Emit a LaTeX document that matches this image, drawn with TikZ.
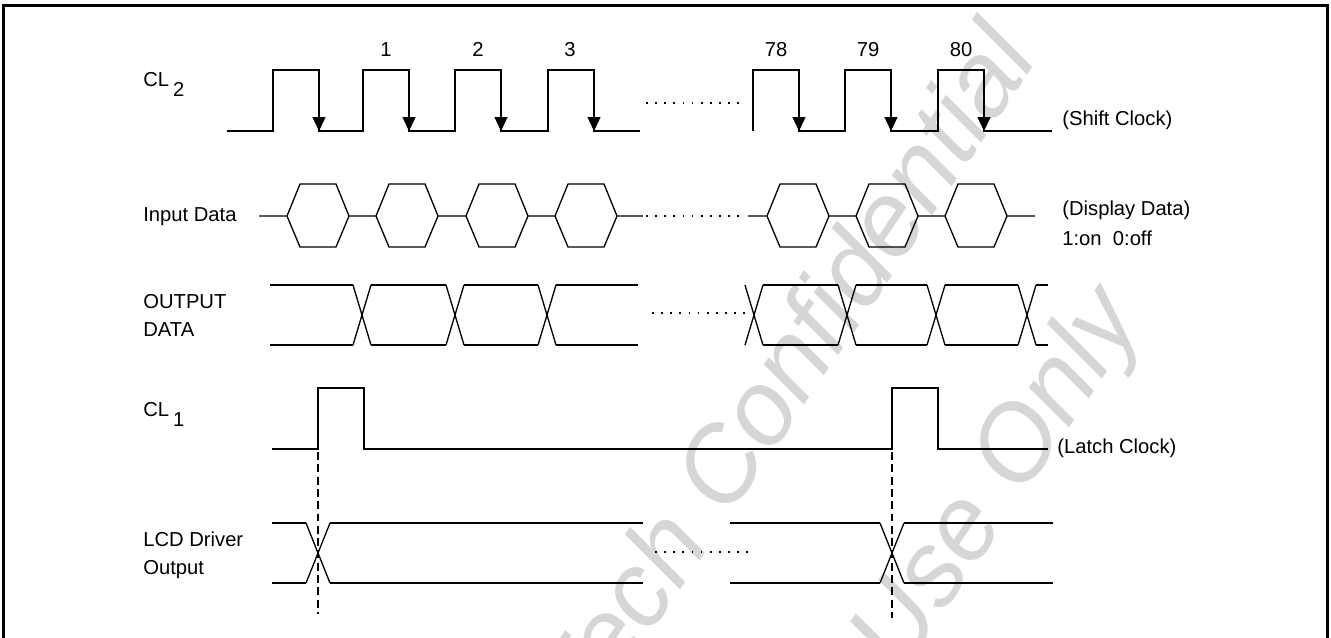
\documentclass[tikz,border=0pt]{standalone}
\usepackage{fontspec}
\setmainfont{Liberation Sans}
\usetikzlibrary{arrows.meta}
\tikzset{
	wave/.style={
		line width=0.75pt, color=black
	},
	clkarrow/.style={
		-{Triangle[width=0.26cm, length=0.28cm]}, line width=0.75pt, color=black
	},
	gapdots/.style={
		line width=0.8pt, dash pattern=on 1pt off 4.2pt
	},
	markline/.style={
		line width=0.75pt, dash pattern=on 4.5pt off 2.5pt
	},
	siglabel/.style={
		inner sep=0pt, align=left,
		font=\fontsize{11.5}{15.9}\selectfont
	},
	pulsenum/.style={
		anchor=base, inner sep=0pt,
		font=\fontsize{11.5}{13}\selectfont
	},
	frameline/.style={
		line width=1.7pt
	},
	watermark/.style={
		rotate=56, inner sep=0pt, text=black!16,
		font=\fontsize{60}{60}\selectfont\itshape
	}
}

\begin{document}
\begin{tikzpicture}[x=0.02cm, y=-0.02cm]
		\useasboundingbox (0,0) rectangle (1331,637);
		
		%% ═══════════════════════════════
		%%  Watermark (behind everything)
		%% ═══════════════════════════════
		\node[watermark] (wmconf) at (782,372) {Tech Confidential};
		\node[watermark] (wmuse) at (1000,482) {Use Only};
		
		%% Frame (open at the bottom)
		\draw[frameline] (3.5,640) -- (3.5,5.5) -- (1327,5.5) -- (1327,640);
		
		%% ═══════════════════════════════
		%%  Signal names (left) and notes (right)
		%% ═══════════════════════════════
		\node[siglabel, anchor=base west] (cltwo) at (143,86) {CL\hspace{0.2em}\raisebox{-0.5em}{2}};
		\node[siglabel, anchor=base west] (datain) at (143,221) {Input Data};
		\node[siglabel, anchor=west] (dataout) at (143,315) {OUTPUT\\DATA};
		\node[siglabel, anchor=base west] (clone) at (143,416) {CL\hspace{0.2em}\raisebox{-0.5em}{1}};
		\node[siglabel, anchor=west] (lcdout) at (143,555) {LCD Driver\\Output};
		
		\node[siglabel, anchor=base west] (shiftclk) at (1062,125) {(Shift Clock)};
		\node[siglabel, anchor=base west] (dispdata) at (1062,215) {(Display Data)};
		\node[siglabel, anchor=base west] (dispnote) at (1062,245) {1:on\ \ 0:off};
		\node[siglabel, anchor=base west] (latchclk) at (1057,453) {(Latch Clock)};
		
		%% pulse numbers
		\foreach \c/\n in {386/1, 478/2, 570/3, 776/78, 868/79, 961/80}
			\node[pulsenum] (num\n) at (\c,56) {\n};
		
		%% ═══════════════════════════════
		%%  ROW 1 — CL2 shift clock
		%% ═══════════════════════════════
		\draw[wave] (227,131) foreach \r in {273,363,455,548} {
			-- (\r,131) -- (\r,70) -- (\r+46,70) -- (\r+46,131)} -- (640,131);
		\draw[wave] (753,131) foreach \r in {753,845,938} {
			-- (\r,131) -- (\r,70) -- (\r+46,70) -- (\r+46,131)} -- (1052,131);
		\foreach \f in {319,409,501,594,799,891,984}
			\draw[clkarrow] (\f,70) -- (\f,131);
		\draw[gapdots] (646,103) -- (746,103);
		
		%% ═══════════════════════════════
		%%  ROW 2 — Input data (hexagons)
		%% ═══════════════════════════════
		\draw[wave] (259,216) foreach \c in {318,407,497,586} {
			-- (\c-31,216) -- (\c-18,184) -- (\c+18,184) -- (\c+31,216)} -- (643,216);
		\draw[wave] (748,216) foreach \c in {798,887,976} {
			-- (\c-31,216) -- (\c-18,184) -- (\c+18,184) -- (\c+31,216)} -- (1035,216);
		\foreach \c in {318,407,497,586,798,887,976}
			\draw[wave] (\c-31,216) -- (\c-18,247) -- (\c+18,247) -- (\c+31,216);
		\draw[gapdots] (646,216) -- (746,216);
		
		%% ═══════════════════════════════
		%%  ROW 3 — Output data (bus)
		%% ═══════════════════════════════
		\foreach \a/\b in {270/353, 371/446, 464/538, 556/638, 763/838, 856/927, 945/1018, 1036/1048}
			\draw[wave] (\a,285) -- (\b,285) (\a,345) -- (\b,345);
		\foreach \x in {362,455,547,754,847,936,1027}
			\draw[wave] (\x-9,285) -- (\x+9,345) (\x-9,345) -- (\x+9,285);
		\draw[gapdots] (652,313) -- (746,313);
		
		%% ═══════════════════════════════
		%%  ROW 4 — CL1 latch clock
		%% ═══════════════════════════════
		\draw[wave] (272,449) -- (318,449) -- (318,388) -- (364,388) -- (364,449)
			-- (892,449) -- (892,388) -- (938,388) -- (938,449) -- (1048,449);
		
		%% ═══════════════════════════════
		%%  ROW 5 — LCD driver output
		%% ═══════════════════════════════
		\foreach \a/\b in {272/306, 330/643, 730/880, 904/1053}
			\draw[wave] (\a,523) -- (\b,523) (\a,583) -- (\b,583);
		\foreach \x/\w in {318/12, 892/12}
			\draw[wave] (\x-\w,523) -- (\x+\w,583) (\x-\w,583) -- (\x+\w,523);
		\draw[gapdots] (655,552) -- (752,552);
		
		%% latch markers (CL1 rise -> driver output change)
		\coordinate (latchA) at (318,452);
		\coordinate (latchAend) at (318,614);
		\coordinate (latchB) at (892,452);
		\coordinate (latchBend) at (892,618);
		\draw[markline] (latchA) -- (latchAend);
		\draw[markline] (latchB) -- (latchBend);
		
	\end{tikzpicture}
\end{document}
